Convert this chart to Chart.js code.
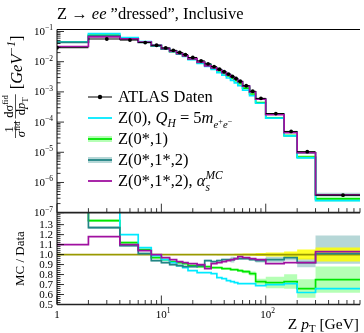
<!DOCTYPE html>
<html>
<head>
<meta charset="utf-8">
<script src="https://cdn.jsdelivr.net/npm/chart.js@4.4.1/dist/chart.umd.min.js"></script>
<style>
  html, body { margin: 0; padding: 0; background: #fff; }
</style>
</head>
<body>
<canvas id="chart" width="364" height="333"></canvas>
<script>
// bin edges in Z pT [GeV]
const binEdges = [0, 2, 4, 6, 8, 10, 12, 14, 16, 18, 22, 26, 30, 34, 38, 42, 46, 50, 54, 60, 70, 80, 100, 150, 200, 300, 800];

// ATLAS data, 1/sigma dsigma/dpT
const atlasData = [0.0290, 0.0565, 0.0520, 0.0430, 0.0350, 0.0285, 0.0238, 0.0202, 0.0172, 0.0138,
  0.0107, 0.00850, 0.00690, 0.00565, 0.00468, 0.00390, 0.00328, 0.00278, 0.00225, 0.00160,
  0.00105, 0.000610, 0.000192, 0.0000490, 0.0000105, 0.00000038];
// relative data uncertainty (yellow band)
const dataErr = [0.005, 0.005, 0.005, 0.005, 0.005, 0.005, 0.005, 0.005, 0.005, 0.005,
  0.005, 0.005, 0.005, 0.006, 0.006, 0.007, 0.007, 0.008, 0.008, 0.01,
  0.012, 0.015, 0.02, 0.03, 0.05, 0.07];

// MC / Data ratios
const ratioZ0 = [1.55, 1.50, 1.20, 1.07, 0.99, 0.95, 0.92, 0.89, 0.87, 0.84,
  0.82, 0.82, 0.81, 0.77, 0.76, 0.74, 0.73, 0.72, 0.71, 0.71,
  0.71, 0.69, 0.70, 0.71, 0.62, 0.66];
const ratioZ01 = [1.55, 1.34, 1.12, 1.05, 0.97, 0.95, 0.93, 0.92, 0.91, 0.89,
  0.88, 0.88, 0.87, 0.87, 0.86, 0.86, 0.85, 0.85, 0.84, 0.83,
  0.81, 0.73, 0.72, 0.73, 0.66, 0.75];
const ratioZ012 = [1.50, 1.27, 1.09, 1.01, 0.94, 0.92, 0.90, 0.89, 0.88, 0.88,
  0.89, 0.94, 0.93, 0.94, 0.95, 0.95, 0.95, 0.96, 0.96, 0.96,
  0.95, 0.94, 0.95, 0.97, 0.92, 1.01];
const ratioZ012as = [1.10, 1.18, 1.10, 1.04, 1.00, 0.97, 0.95, 0.93, 0.92, 0.91,
  0.90, 0.86, 0.91, 0.92, 0.93, 0.94, 0.95, 0.96, 0.98, 0.97,
  0.96, 0.95, 0.91, 0.92, 0.92, 1.03];

// MC uncertainty bands (relative)
const errZ01 = [0.01, 0.01, 0.01, 0.01, 0.01, 0.01, 0.01, 0.01, 0.01, 0.01,
  0.01, 0.01, 0.01, 0.01, 0.01, 0.01, 0.01, 0.01, 0.015, 0.02,
  0.025, 0.04, 0.08, 0.10, 0.14, 0.175];
const errZ012Up = [0.01, 0.01, 0.01, 0.01, 0.01, 0.01, 0.01, 0.01, 0.01, 0.01,
  0.01, 0.01, 0.01, 0.01, 0.01, 0.01, 0.03, 0.01, 0.01, 0.01,
  0.01, 0.02, 0.03, 0.03, 0.05, 0.18];
const errZ012Dn = [0.01, 0.01, 0.01, 0.01, 0.01, 0.01, 0.01, 0.01, 0.01, 0.01,
  0.01, 0.01, 0.01, 0.01, 0.01, 0.01, 0.03, 0.01, 0.01, 0.01,
  0.01, 0.02, 0.03, 0.03, 0.05, 0.10];

// axis ticks
const upperTickExps = [-7, -6, -5, -4, -3, -2, -1];
const ratioTickLabels = ['0.5', '0.6', '0.7', '0.8', '0.9', '1.0', '1.1', '1.2', '1.3'];
const xTickExps = [0, 1, 2];

const xMin = 1, xMax = 800;
const yMin = 1e-7, yMax = 0.121;
const rMin = 0.5, rMax = 1.42;

const AREA_TOP = 29, AREA_BOTTOM = 304.5;

const C = {
  cyan: '#00eaff',
  green: '#00e600',
  teal: '#238585',
  purple: '#a010a0',
  greenBand: 'rgba(150, 255, 150, 0.7)',
  tealBand: 'rgba(110, 175, 175, 0.5)',
  yellow: 'rgba(255, 255, 0, 0.85)',
  olive: '#999900'
};

const FONT = '"Liberation Serif", "DejaVu Serif", serif';

function stepPoints(vals) {
  const pts = vals.map((v, i) => ({ x: Math.max(binEdges[i], xMin), y: v }));
  pts.push({ x: binEdges[binEdges.length - 1], y: vals[vals.length - 1] });
  return pts;
}
function barPoints(vals) {
  const pts = [];
  vals.forEach((v, i) => {
    pts.push({ x: Math.max(binEdges[i], xMin), y: v }, { x: binEdges[i + 1], y: v }, { x: binEdges[i + 1], y: null });
  });
  return pts;
}
const times = (a, b) => a.map((v, i) => v * b[i]);
const scaleBy = (a, e, sign) => a.map((v, i) => v * (1 + sign * e[i]));

const mcZ0 = times(atlasData, ratioZ0);
const mcZ01 = times(atlasData, ratioZ01);
const mcZ012 = times(atlasData, ratioZ012);
const mcZ012as = times(atlasData, ratioZ012as);
const dataRatio = atlasData.map(v => v / v);
const centers = atlasData.map((v, i) => ({ x: Math.max((binEdges[i] + binEdges[i + 1]) / 2, xMin), y: v }));

function line(data, color, axis, width) {
  return {
    data: stepPoints(data), yAxisID: axis, xAxisID: 'x',
    borderColor: color, borderWidth: width || 1.7, stepped: 'before',
    pointRadius: 0, fill: false, clip: 0
  };
}
function bandEdge(data, axis) {
  return {
    data: stepPoints(data), yAxisID: axis, xAxisID: 'x',
    borderWidth: 0, borderColor: 'rgba(0,0,0,0)', stepped: 'before',
    pointRadius: 0, fill: false, clip: 0
  };
}

// first dataset is drawn on top
const datasets = [];
datasets.push({
  data: centers, yAxisID: 'y', xAxisID: 'x', showLine: false,
  pointRadius: 1.9, pointBackgroundColor: '#000', pointBorderWidth: 0, clip: 0
});
datasets.push({
  data: barPoints(atlasData), yAxisID: 'y', xAxisID: 'x', borderColor: '#000',
  borderWidth: 1, pointRadius: 0, spanGaps: false, fill: false, clip: 0
});
datasets.push(line(mcZ012as, C.purple, 'y'));
datasets.push(line(mcZ012, C.teal, 'y'));
datasets.push(line(mcZ0, C.cyan, 'y'));
datasets.push(line(mcZ01, C.green, 'y'));

function band(lo, hi, color, axis) {
  const hiSet = bandEdge(hi, axis);
  datasets.push(hiSet);
  hiSet.fill = { target: datasets.length, above: color, below: color };
  datasets.push(bandEdge(lo, axis));
}
band(scaleBy(mcZ012, errZ012Dn, -1), scaleBy(mcZ012, errZ012Up, 1), C.tealBand, 'y');
band(scaleBy(mcZ01, errZ01, -1), scaleBy(mcZ01, errZ01, 1), C.greenBand, 'y');

datasets.push(line(ratioZ012as, C.purple, 'y2'));
datasets.push(line(ratioZ012, C.teal, 'y2'));
datasets.push(line(ratioZ0, C.cyan, 'y2'));
datasets.push(line(ratioZ01, C.green, 'y2'));
datasets.push(line(dataRatio, C.olive, 'y2', 1.8));
band(scaleBy(dataRatio, dataErr, -1), scaleBy(dataRatio, dataErr, 1), C.yellow, 'y2');
band(scaleBy(ratioZ012, errZ012Dn, -1), scaleBy(ratioZ012, errZ012Up, 1), C.tealBand, 'y2');
band(scaleBy(ratioZ01, errZ01, -1), scaleBy(ratioZ01, errZ01, 1), C.greenBand, 'y2');

// ---- text helpers
function setFont(ctx, size, italic) {
  ctx.font = (italic ? 'italic ' : '') + size.toFixed(1) + 'px ' + FONT;
}
function richWidth(ctx, parts, size) {
  let w = 0;
  parts.forEach(p => { setFont(ctx, size * (p.s || 1), p.i); if (!p.n) w += ctx.measureText(p.t).width; });
  return w;
}
function rich(ctx, x, y, parts, size, align) {
  const w = richWidth(ctx, parts, size);
  let cx = align === 'right' ? x - w : align === 'center' ? x - w / 2 : x;
  parts.forEach(p => {
    setFont(ctx, size * (p.s || 1), p.i);
    ctx.fillText(p.t, cx, y + (p.dy || 0) * size);
    if (!p.n) cx += ctx.measureText(p.t).width;
  });
  return w;
}

const titleParts = [{ t: 'Z \u2192 ' }, { t: 'ee', i: 1 }, { t: ' \u201Ddressed\u201D, Inclusive' }];
const legendLabels = [
  [{ t: 'ATLAS Daten' }],
  [{ t: 'Z(0), ' }, { t: 'Q', i: 1 }, { t: 'H', i: 1, s: 0.7, dy: 0.25 }, { t: ' = 5' }, { t: 'm', i: 1 },
   { t: 'e', i: 1, s: 0.65, dy: 0.28 }, { t: '+', s: 0.5, dy: 0.05 }, { t: 'e', i: 1, s: 0.65, dy: 0.28 }, { t: '\u2212', s: 0.5, dy: 0.05 }],
  [{ t: 'Z(0*,1)' }],
  [{ t: 'Z(0*,1*,2)' }],
  [{ t: 'Z(0*,1*,2), ' }, { t: '\u03B1', i: 1 }, { t: 's', i: 1, s: 0.7, dy: 0.28, n: 1 }, { t: 'MC', i: 1, s: 0.7, dy: -0.42 }]
];
const legendStyles = [
  { color: '#000', dot: true },
  { color: C.cyan },
  { color: C.green, band: C.greenBand },
  { color: C.teal, band: C.tealBand },
  { color: C.purple }
];

const rivetDecor = {
  id: 'rivetDecor',
  afterDraw(chart) {
    const ctx = chart.ctx;
    const xs = chart.scales.x, ys = chart.scales.y, rs = chart.scales.y2;
    const L = chart.chartArea.left, R = chart.chartArea.right;
    const yTop = ys.top, mid = ys.bottom, bot = rs.bottom;
    ctx.save();
    ctx.fillStyle = '#000';
    ctx.strokeStyle = '#000';
    ctx.textBaseline = 'alphabetic';
    ctx.textAlign = 'left';

    const tick = (x1, y1, x2, y2, w) => {
      ctx.lineWidth = w || 0.8;
      ctx.beginPath(); ctx.moveTo(x1, y1); ctx.lineTo(x2, y2); ctx.stroke();
    };

    // upper y ticks
    upperTickExps.forEach(e => {
      const y = ys.getPixelForValue(Math.pow(10, e));
      tick(L, y, L + 7, y);
      rich(ctx, L - 4, y + 3.5, [{ t: '10' }, { t: '\u2212' + (-e), s: 0.68, dy: -0.42 }], 11, 'right');
      for (let k = 2; k <= 9; k++) {
        const v = k * Math.pow(10, e);
        if (v <= yMax) { const yy = ys.getPixelForValue(v); tick(L, yy, L + 3.5, yy); }
      }
    });
    // ratio y ticks
    ratioTickLabels.forEach(t => {
      const y = rs.getPixelForValue(parseFloat(t));
      tick(L, y, L + 7, y);
      rich(ctx, L - 4, y + 3.5, [{ t }], 11, 'right');
    });
    for (let v = rMin; v <= rMax + 1e-9; v += 0.02) {
      const y = rs.getPixelForValue(v);
      tick(L, y, L + 3.5, y);
    }
    // x ticks on both panels
    xTickExps.forEach(e => {
      const d = Math.pow(10, e);
      [mid, bot].forEach(yb => {
        const x = xs.getPixelForValue(d);
        tick(x, yb, x, yb - 9);
        for (let k = 2; k <= 9; k++) {
          if (k * d <= xMax) { const xx = xs.getPixelForValue(k * d); tick(xx, yb, xx, yb - 4.5); }
        }
      });
      const x = xs.getPixelForValue(d);
      if (e === 0) rich(ctx, x, bot + 13, [{ t: '1' }], 11, 'center');
      else {
        setFont(ctx, 11, false);
        const w10 = ctx.measureText('10').width;
        rich(ctx, x - w10 / 2, bot + 13, [{ t: '10' }, { t: String(e), s: 0.68, dy: -0.42 }], 11, 'left');
      }
    });

    // frame
    ctx.lineWidth = 1;
    ctx.beginPath();
    ctx.moveTo(R, yTop + 0.5); ctx.lineTo(L, yTop + 0.5); ctx.lineTo(L, bot);
    ctx.stroke();
    ctx.lineWidth = 1.6;
    ctx.strokeStyle = '#222';
    ctx.beginPath(); ctx.moveTo(L, mid); ctx.lineTo(R, mid); ctx.stroke();
    ctx.beginPath(); ctx.moveTo(L, bot); ctx.lineTo(R, bot); ctx.stroke();
    ctx.strokeStyle = '#000';

    // title
    rich(ctx, L, 18.5, titleParts, 16.5, 'left');

    // legend
    legendLabels.forEach((parts, i) => {
      const cy = 97 + i * 21;
      const st = legendStyles[i];
      if (st.band) { ctx.fillStyle = st.band; ctx.fillRect(88, cy - 3, 24, 6); }
      ctx.strokeStyle = st.color;
      ctx.lineWidth = st.dot ? 1 : 1.8;
      ctx.beginPath(); ctx.moveTo(88, cy); ctx.lineTo(112, cy); ctx.stroke();
      ctx.fillStyle = '#000';
      if (st.dot) { ctx.beginPath(); ctx.arc(100, cy, 2.2, 0, Math.PI * 2); ctx.fill(); }
      rich(ctx, 118, cy + 5, parts, 16.5, 'left');
    });
    ctx.strokeStyle = '#000';

    // x axis title
    rich(ctx, R - 1, 329, [{ t: 'Z ' }, { t: 'p', i: 1 }, { t: 'T', s: 0.7, dy: 0.22 }, { t: ' [GeV]' }], 15.5, 'right');

    // ratio y title
    ctx.save();
    ctx.translate(24, (mid + bot) / 2);
    ctx.rotate(-Math.PI / 2);
    rich(ctx, 0, 0, [{ t: 'MC / Data' }], 13, 'center');
    ctx.restore();

    // upper y title: 1/sigma dsigma/dpT [GeV^-1]
    ctx.save();
    ctx.rotate(-Math.PI / 2);
    const barV = 15.5;
    let u = -138;
    const frac = (num, den, size) => {
      const wn = richWidth(ctx, num, size), wd = richWidth(ctx, den, size);
      const w = Math.max(wn, wd) + 1.5;
      rich(ctx, u + w / 2, barV - 2.5, num, size, 'center');
      rich(ctx, u + w / 2, barV + 9.5, den, size, 'center');
      ctx.lineWidth = 0.7;
      ctx.beginPath(); ctx.moveTo(u, barV); ctx.lineTo(u + w, barV); ctx.stroke();
      u += w;
    };
    frac([{ t: '1' }], [{ t: '\u03C3', i: 1 }, { t: 'fid', s: 0.7, dy: -0.4 }], 12.5);
    u += 2;
    frac([{ t: 'd\u03C3' }, { t: 'fid', s: 0.7, dy: -0.4 }], [{ t: 'd' }, { t: 'p', i: 1 }, { t: 'T', s: 0.7, dy: 0.25 }], 12.5);
    u += 5;
    rich(ctx, u, barV + 6, [{ t: '[' }, { t: 'GeV', i: 1 }, { t: '\u22121', i: 1, s: 0.7, dy: -0.42 }, { t: ']' }], 16.5, 'left');
    ctx.restore();

    ctx.restore();
  }
};

new Chart(document.getElementById('chart'), {
  type: 'line',
  data: { datasets },
  options: {
    responsive: false,
    animation: false,
    devicePixelRatio: 1,
    layout: { padding: { top: AREA_TOP, right: 0, left: 0, bottom: 0 } },
    plugins: { legend: { display: false }, tooltip: { enabled: false } },
    elements: { line: { tension: 0 } },
    scales: {
      x: {
        type: 'logarithmic', min: xMin, max: xMax, position: 'bottom',
        ticks: { display: false }, grid: { display: false }, border: { display: false },
        afterFit: s => { s.height = 333 - AREA_BOTTOM; }
      },
      y: {
        type: 'logarithmic', min: yMin, max: yMax, position: 'left',
        stack: 'panels', stackWeight: 2, weight: 2,
        ticks: { display: false }, grid: { display: false }, border: { display: false },
        afterFit: s => { s.width = 57; }
      },
      y2: {
        type: 'linear', axis: 'y', min: rMin, max: rMax, position: 'left',
        stack: 'panels', stackWeight: 1, weight: 1,
        ticks: { display: false }, grid: { display: false }, border: { display: false },
        afterFit: s => { s.width = 57; }
      }
    }
  },
  plugins: [rivetDecor]
});
</script>
</body>
</html>
